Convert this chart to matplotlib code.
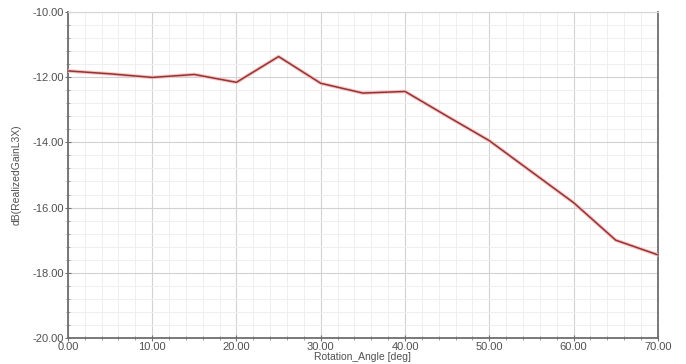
import numpy as np
import matplotlib
matplotlib.use("Agg")
import matplotlib.pyplot as plt
from matplotlib.ticker import MultipleLocator, FormatStrFormatter

plt.rcParams['font.family'] = ['Liberation Sans', 'DejaVu Sans']

# rotation sweep and realized gain
angle = [0, 5, 10, 15, 20, 25, 30, 35, 40, 45, 50, 55, 60, 65, 70]
gain = [-11.81, -11.90, -12.01, -11.92, -12.16, -11.37, -12.19, -12.49, -12.44,
        -13.20, -13.95, -14.90, -15.85, -17.00, -17.45]

fig = plt.figure(figsize=(6.86, 3.64), dpi=100)
ax = fig.add_axes([0.099, 0.0714, 0.860, 0.896])

# pink halo under the trace, then the trace itself
ax.plot(angle, gain, color='#f6c4c4', lw=2.6, solid_joinstyle='round', zorder=3)
ax.plot(angle, gain, color='#973232', lw=1.1, solid_joinstyle='round', zorder=4)

ax.set_xlim(0, 70)
ax.set_ylim(-20, -10)
ax.xaxis.set_major_locator(MultipleLocator(10))
ax.xaxis.set_minor_locator(MultipleLocator(2))
ax.yaxis.set_major_locator(MultipleLocator(2))
ax.yaxis.set_minor_locator(MultipleLocator(0.4))
ax.xaxis.set_major_formatter(FormatStrFormatter('%.2f'))
ax.yaxis.set_major_formatter(FormatStrFormatter('%.2f'))

ax.grid(True, which='major', color='#d2d2d2', lw=0.8)
ax.grid(True, which='minor', color='#efefef', lw=0.7)
ax.set_axisbelow(True)

for side in ['left', 'bottom', 'right']:
    ax.spines[side].set_color('#6e6e6e')
    ax.spines[side].set_linewidth(1.3)
ax.spines['top'].set_color('#d6d6d6')
ax.spines['top'].set_linewidth(0.8)

ax.tick_params(which='major', direction='inout', length=4, width=0.8, color='#707070',
               labelsize=8, labelcolor='#505050', pad=1)
ax.tick_params(which='minor', direction='inout', length=2.5, width=0.6, color='#909090')
ax.tick_params(axis='y', which='both', right=False)

ax.set_xlabel('Rotation_Angle [deg]', fontsize=7.5, color='#505050', labelpad=0)
ax.set_ylabel('dB(RealizedGainL3X)', fontsize=7.5, color='#505050', labelpad=8)

fig.savefig('out.png', dpi=100)
